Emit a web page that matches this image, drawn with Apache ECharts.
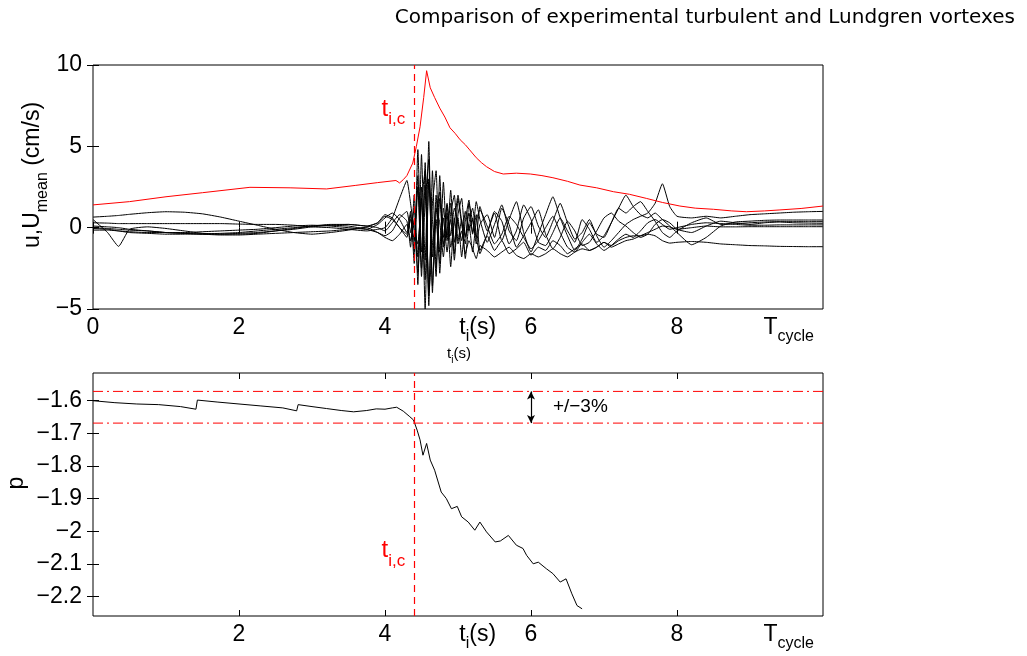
<!DOCTYPE html>
<html>
<head>
<meta charset="utf-8">
<script src="https://cdn.jsdelivr.net/npm/echarts@6/dist/echarts.min.js"></script>
<style>
html, body { margin: 0; background: #fff; }
#main { width: 1027px; height: 656px; }
</style>
</head>
<body>
<div id="main"></div>
<script>
// shared time base of the velocity traces (s)
const T = [0, 0.2, 0.35, 0.5, 0.75, 1, 1.25, 1.5, 1.75, 2, 2.25, 2.5, 2.75, 3, 3.25, 3.5, 3.75, 3.9, 4.0, 4.1, 4.2, 4.3,
  4.35, 4.4, 4.45, 4.5, 4.55, 4.6, 4.65, 4.7, 4.75, 4.8, 4.85, 4.9, 4.95, 5.0, 5.05, 5.1, 5.15, 5.2, 5.25, 5.3,
  5.4, 5.5, 5.6, 5.7, 5.8, 5.9, 6.0, 6.1, 6.2, 6.3, 6.4, 6.5, 6.6, 6.7, 6.8, 6.9, 7.0, 7.1, 7.2,
  7.3, 7.4, 7.5, 7.6, 7.7, 7.8, 7.9, 8.0, 8.2, 8.4, 8.6, 8.8, 9.0, 9.2, 9.4, 9.6, 9.8, 10.0];

// experimental turbulent runs u (cm/s)
const u1 = [0.65, 0.7, 0.75, 0.82, 0.92, 0.98, 0.95, 0.85, 0.65, 0.4, 0.15, -0.1, -0.3, -0.4, -0.3, -0.15, 0.05, 0.3, 0.7, 0.5, 0.0, -0.6,
  0.8, -1.5, 2.5, -3.0, 4.0, -4.8, 3.5, -2.5, 1.8, -1.2, 1.5, -0.5, 1.2, 0.3, -0.8, 1.0, -0.2, 0.6, -1.0, 0.2,
  0.8, -0.6, 1.2, 0.2, -1.2, -0.5, 0.3, 1.1, -0.4, -1.3, -0.6, 0.4, -0.2, -1.1, -0.9, -0.2, 0.6, 0.9, 0.4,
  0.1, -0.3, -0.6, -0.4, 0.2, 0.5, 0.3, -0.1, -0.3, 0.1, 0.4, 0.3, 0.2, 0.3, 0.35, 0.3, 0.28, 0.27];
const u2 = [0.5, -0.3, -1.15, -0.1, 0.05, -0.05, -0.2, -0.35, -0.4, -0.4, -0.35, -0.2, -0.05, 0.1, 0.2, 0.2, 0.1, 0.0, -0.2, 0.3, 0.8, 0.4,
  -1.2, 2.0, -3.5, 4.5, -2.0, 5.3, -4.0, 2.0, -1.5, 2.8, -0.8, 0.5, -1.6, 1.8, 0.2, -1.0, 1.5, 0.4, -0.6, 1.3,
  -0.2, 0.9, -0.8, 0.5, 1.6, -0.3, -1.5, -0.4, 0.8, 1.9, 0.6, -0.5, -1.4, -0.7, 0.3, -0.4, -0.6, 0.3, 1.2,
  2.0, 1.3, 0.8, 0.6, 0.9, 0.5, 0.1, -0.3, -1.05, -0.6, 0.1, 0.35, 0.4, 0.45, 0.47, 0.47, 0.47, 0.47];
const u3 = [0.3, 0.28, 0.25, 0.25, 0.25, 0.25, 0.25, 0.25, 0.25, 0.22, 0.2, 0.2, 0.15, 0.05, 0.0, -0.1, -0.2, -0.1, 0.0, 0.6, 1.8, 2.9,
  1.5, -0.2, -1.0, 1.8, -3.2, 3.0, -1.8, 0.8, 2.2, -0.6, 1.4, -1.2, 0.3, 2.0, 0.4, -0.5, 0.9, -0.3, 1.6, 0.5,
  -0.9, 0.2, 1.4, -0.2, -0.8, 0.6, 1.3, 0.1, -0.6, 0.4, 1.5, 0.3, -0.7, -0.3, 0.5, -0.5, -1.2, -0.8, -0.3,
  0.2, 0.5, 0.7, 0.9, 1.5, 2.7, 1.3, 0.7, 0.6, 0.7, 0.6, 0.7, 0.8, 0.85, 0.9, 0.95, 0.98, 1.0];
const u4 = [0.1, 0.05, 0.0, -0.1, -0.2, -0.3, -0.35, -0.4, -0.4, -0.35, -0.3, -0.2, -0.1, 0.05, 0.15, 0.2, 0.1, 0.3, 0.8, 0.6, 0.0, -0.4,
  0.5, -0.8, 3.2, -2.5, 1.5, 4.2, -3.6, 0.5, -2.2, 1.2, -0.6, 2.3, -0.9, 0.6, -1.8, 0.4, 1.7, -0.4, 0.8, -1.4,
  -0.4, 1.0, 0.4, -1.0, -0.2, 1.4, 0.5, -0.9, -1.1, -0.3, 0.6, -0.2, -0.9, 0.5, -0.1, -0.9, -0.5, 0.3, 1.2,
  0.9, 1.3, 1.6, 1.0, 0.4, -0.3, -0.6, -0.2, 0.3, 0.6, 0.2, 0.25, 0.3, 0.35, 0.37, 0.37, 0.37, 0.37];
const u5 = [-0.05, -0.1, -0.2, -0.3, -0.35, -0.4, -0.4, -0.38, -0.35, -0.3, -0.2, -0.1, 0.0, 0.1, 0.15, 0.1, -0.1, -0.3, -0.5, -0.2, 0.6, 1.0,
  -0.3, 1.2, -1.8, 2.5, -5.0, 2.8, 0.5, -3.0, 3.2, -1.0, -0.2, 1.5, -2.0, 0.8, 1.8, -0.6, 0.2, -1.5, 0.4, 1.1,
  0.1, -1.0, -0.4, 0.7, 0.2, -0.6, -1.3, -0.8, 0.0, 0.7, -0.3, -1.2, -1.5, -0.9, -0.4, -1.0, -1.4, -1.1, -0.7,
  -0.4, -0.6, -0.2, 0.3, 0.5, 0.2, -0.1, 0.0, 0.2, 0.3, 0.25, 0.2, 0.15, 0.15, 0.17, 0.17, 0.17, 0.17];
const u6 = [-0.15, -0.15, -0.2, -0.25, -0.3, -0.3, -0.3, -0.25, -0.2, -0.15, -0.1, 0.0, 0.1, 0.15, 0.1, 0.0, -0.1, 0.2, 0.6, 0.9, 0.5, -0.3,
  1.0, -2.2, 4.8, -1.5, 2.6, -3.8, 1.5, 3.5, -2.8, 0.6, -1.5, 0.9, 2.0, -0.8, 0.5, -1.9, 0.3, 1.2, -0.5, -1.6,
  -0.5, -1.4, -0.8, -1.6, -1.3, -0.9, -1.7, -1.2, -1.4, -0.8, -1.1, -1.6, -1.3, -1.0, -1.4, -1.2, -0.9, -1.2, -1.0,
  -0.8, -0.7, -0.5, -0.3, -0.1, 0.1, 0.05, -0.1, 0.0, 0.1, 0.05, 0.05, 0.06, 0.06, 0.06, 0.06, 0.06, 0.06];
const u7 = [0.0, -0.05, -0.1, -0.15, -0.2, -0.3, -0.35, -0.4, -0.45, -0.45, -0.4, -0.35, -0.3, -0.25, -0.2, -0.1, 0.0, -0.3, -0.6, -0.8, -0.4, 0.2,
  -0.8, 0.5, -2.8, 1.6, 3.5, -4.2, -1.0, 1.2, 0.3, -1.8, 0.9, -2.4, 0.6, -1.0, -0.2, -1.6, -0.8, -1.3, -1.9, -1.1,
  -1.4, -1.8, -1.5, -1.2, -1.7, -1.9, -1.6, -1.8, -1.6, -1.3, -1.6, -1.8, -1.5, -1.3, -1.4, -1.2, -0.9, -1.1, -0.8,
  -0.6, -0.5, -0.5, -0.4, -0.5, -0.8, -0.95, -0.9, -0.85, -0.9, -1.0, -1.05, -1.1, -1.12, -1.15, -1.16, -1.17, -1.17];

// Lundgren mean velocity U_mean (cm/s)
const meanT = [0, 0.5, 1, 1.5, 2.15, 2.7, 3.2, 3.6, 3.9, 4.15, 4.2, 4.25, 4.3, 4.38, 4.43, 4.48, 4.53, 4.57, 4.62, 4.68,
  4.75, 4.82, 4.89, 4.96, 5.03, 5.1, 5.16, 5.25, 5.32, 5.39, 5.5, 5.62, 5.8, 5.99, 6.15, 6.3, 6.5, 6.67, 6.9,
  7.13, 7.35, 7.58, 7.8, 8.04, 8.25, 8.5, 8.75, 8.95, 9.2, 9.41, 9.7, 10];
const meanU = [1.4, 1.6, 1.9, 2.15, 2.48, 2.45, 2.38, 2.6, 2.77, 2.9, 2.75, 2.95, 3.2, 3.97, 5.0, 6.2, 8.0, 9.65, 8.6, 8.0,
  7.35, 6.8, 6.14, 5.8, 5.4, 5.1, 4.78, 4.3, 4.0, 3.75, 3.45, 3.3, 3.35, 3.3, 3.2, 3.07, 2.85, 2.62, 2.45,
  2.21, 2.05, 1.8, 1.55, 1.33, 1.2, 1.13, 1.03, 0.98, 1.03, 1.09, 1.18, 1.33];

// pressure p
const pT = [0, 0.3, 0.6, 0.9, 1.2, 1.41, 1.43, 1.7, 2.0, 2.3, 2.6, 2.79, 2.81, 3.0, 3.2, 3.4, 3.57, 3.75, 3.88, 4.0,
  4.1, 4.16, 4.25, 4.34, 4.39, 4.44, 4.48, 4.52, 4.57, 4.62, 4.68, 4.77, 4.84, 4.91, 4.99, 5.05, 5.14, 5.23, 5.3,
  5.39, 5.51, 5.58, 5.69, 5.8, 5.89, 5.94, 6.03, 6.1, 6.21, 6.3, 6.4, 6.48, 6.56, 6.63, 6.7];
const pVal = [-1.600, -1.606, -1.610, -1.612, -1.618, -1.626, -1.598, -1.604, -1.610, -1.616, -1.622, -1.631, -1.612, -1.618, -1.624, -1.630, -1.634, -1.630, -1.625, -1.626,
  -1.622, -1.620, -1.632, -1.649, -1.659, -1.690, -1.720, -1.767, -1.731, -1.782, -1.813, -1.880, -1.900, -1.931, -1.924, -1.956, -1.972, -1.997, -1.972,
  -2.002, -2.033, -2.030, -2.013, -2.043, -2.053, -2.074, -2.100, -2.095, -2.115, -2.130, -2.156, -2.146, -2.192, -2.228, -2.238];

const tIc = 4.4;          // critical time t_i,c
const pRef = -1.62;       // reference pressure
const pTol = 0.03;        // +/-3%

// ticks and labels
const tRange = [0, 10];
const xTicks = [0, 2, 4, 6, 8];
const xTicksLow = [2, 4, 6, 8];
const tLabelAt = 5.27, cycleLabelAt = 9.53;
const xLabelsTop = [0, 2, 4, tLabelAt, 6, 8, cycleLabelAt];
const xLabelsLow = [2, 4, tLabelAt, 6, 8, cycleLabelAt];
const uTicks = [-5, 0, 5, 10];
const pTicks = [-2.2, -2.1, -2.0, -1.9, -1.8, -1.7, -1.6];

const FONT = '"Liberation Sans", Arial, sans-serif';
const RED = '#ff0000';

var chart = echarts.init(document.getElementById('main'));

function pairs(xs, ys) {
	return xs.map(function (x, i) { return [x, ys[i]]; });
}
function minus(v) {
	return (v < 0 ? '\u2212' : '') + Math.abs(v);
}
// main text + subscript
function subRich(big, small, color) {
	return {
		m: {fontSize: big, lineHeight: big + 2, verticalAlign: 'top', fontFamily: FONT, color: color, fill: color},
		s: {fontSize: small, lineHeight: small, padding: [Math.round(big * 0.58), 0, 0, 0], verticalAlign: 'top',
			fontFamily: FONT, color: color, fill: color}
	};
}
function xLabel(v) {
	if (Math.abs(v - tLabelAt) < 1e-6) return '{m|t}{s|i}{m|(s)}';
	if (Math.abs(v - cycleLabelAt) < 1e-6) return '{m|T}{s|cycle}';
	return '{m|' + v + '}';
}
function xAx(grid, pos, ticks, labels) {
	return {
		type: 'value', gridIndex: grid, position: pos, min: tRange[0], max: tRange[1],
		axisLine: {show: false}, splitLine: {show: false},
		axisTick: {show: true, inside: true, length: 6, lineStyle: {color: '#000'}, customValues: ticks},
		axisLabel: labels ? {show: true, margin: 7, customValues: labels, formatter: xLabel, rich: subRich(23, 16, '#000')} : {show: false}
	};
}
function yAx(grid, pos, min, max, ticks, labels) {
	return {
		type: 'value', gridIndex: grid, position: pos, min: min, max: max,
		axisLine: {show: false}, splitLine: {show: false},
		axisTick: {show: true, inside: true, length: 6, lineStyle: {color: '#000'}, customValues: ticks},
		axisLabel: labels ? {show: true, margin: 11, customValues: ticks, formatter: minus,
			fontSize: 23, fontFamily: FONT, color: '#000'} : {show: false}
	};
}
function blackLine(ys) {
	return {
		type: 'line', xAxisIndex: 0, yAxisIndex: 0, data: pairs(T, ys),
		symbol: 'none', smooth: 0.15, silent: true, z: 2,
		lineStyle: {color: '#000', width: 1}
	};
}
// +/-3% band limits, drawn as dash-dot lines across the panel
function bandLine(level) {
	return {
		type: 'line', xAxisIndex: 2, yAxisIndex: 2, symbol: 'none', silent: true, z: 2,
		data: tRange.map(function (t) { return [t, level]; }),
		lineStyle: {color: RED, type: [10, 4, 2, 4], width: 1}
	};
}

var option = {
	animation: false,
	backgroundColor: '#fff',
	grid: [
		{left: 93, top: 65, width: 730, height: 244, show: true, borderColor: '#000', borderWidth: 1, outerBoundsMode: 'none'},
		{left: 93, top: 373, width: 730, height: 243, show: true, borderColor: '#000', borderWidth: 1, outerBoundsMode: 'none'}
	],
	xAxis: [
		xAx(0, 'bottom', xTicks, xLabelsTop),
		xAx(0, 'top', xTicks, null),
		xAx(1, 'bottom', xTicksLow, xLabelsLow),
		xAx(1, 'top', xTicksLow, null)
	],
	yAxis: [
		yAx(0, 'left', -5, 10, uTicks, true),
		yAx(0, 'right', -5, 10, uTicks, false),
		yAx(1, 'left', -2.26, -1.515, pTicks, true),
		yAx(1, 'right', -2.26, -1.515, pTicks, false)
	],
	series: [u1, u2, u3, u4, u5, u6, u7].map(blackLine).concat([
		{
			type: 'line', xAxisIndex: 0, yAxisIndex: 0, data: pairs(meanT, meanU),
			symbol: 'none', silent: true, z: 3, lineStyle: {color: RED, width: 1},
			markLine: {
				symbol: 'none', silent: true, label: {show: false},
				lineStyle: {color: RED, type: [7, 5], width: 1.2},
				data: [{xAxis: tIc}]
			}
		},
		{
			type: 'line', xAxisIndex: 2, yAxisIndex: 2, data: pairs(pT, pVal),
			symbol: 'none', silent: true, z: 3, lineStyle: {color: '#000', width: 1},
			markLine: {
				symbol: 'none', silent: true, label: {show: false},
				lineStyle: {color: RED, type: [7, 5], width: 1.2},
				data: [{xAxis: tIc}]
			}
		},
		bandLine(pRef * (1 - pTol)),
		bandLine(pRef * (1 + pTol)),
		{
			// +/-3% double arrow
			type: 'line', xAxisIndex: 2, yAxisIndex: 2, data: [], color: '#000', z: 4,
			markLine: {
				symbol: ['arrow', 'arrow'], symbolSize: [6, 8], silent: true, label: {show: false},
				lineStyle: {color: '#000', type: 'solid', width: 1.2},
				data: [[{coord: [6, pRef * (1 - pTol)]}, {coord: [6, pRef * (1 + pTol)]}]]
			}
		}
	])
};
chart.setOption(option);

// annotations anchored to data
function at(grid, p) {
	return chart.convertToPixel({xAxisIndex: grid * 2, yAxisIndex: grid * 2}, p);
}
var ticTop = at(0, [tIc, 7.23]);
var ticLow = at(1, [tIc, -2.062]);
var tolPos = at(1, [6.3, pRef]);
function ticText(p) {
	return {type: 'text', x: p[0] - 9, y: p[1], silent: true,
		style: {text: '{m|t}{s|i,c}', rich: subRich(24, 17, RED), align: 'right', verticalAlign: 'middle'}};
}
chart.setOption({
	graphic: [
		{type: 'text', right: 12, top: 8, silent: true,
			style: {text: 'Comparison of experimental turbulent and Lundgren vortexes',
				font: '20px "DejaVu Sans"', fill: '#000'}},
		{type: 'text', x: 34, y: 175, rotation: Math.PI / 2, silent: true,
			style: {text: '{m|u,U}{s|mean}{m| (cm/s)}', align: 'center', verticalAlign: 'middle',
				rich: subRich(23, 16, '#000')}},
		{type: 'text', x: 17, y: 483, rotation: Math.PI / 2, silent: true,
			style: {text: 'p', font: '23px ' + FONT, fill: '#000', align: 'center', verticalAlign: 'middle'}},
		{type: 'text', x: 459, y: 355, silent: true,
			style: {text: '{m|t}{s|i}{m|(s)}', align: 'center', verticalAlign: 'middle', rich: subRich(15, 10, '#000')}},
		ticText(ticTop),
		ticText(ticLow),
		{type: 'text', x: tolPos[0], y: tolPos[1], silent: true,
			style: {text: '+/\u22123%', font: '19px ' + FONT, fill: '#000', align: 'left', verticalAlign: 'middle'}}
	]
});
</script>
</body>
</html>
